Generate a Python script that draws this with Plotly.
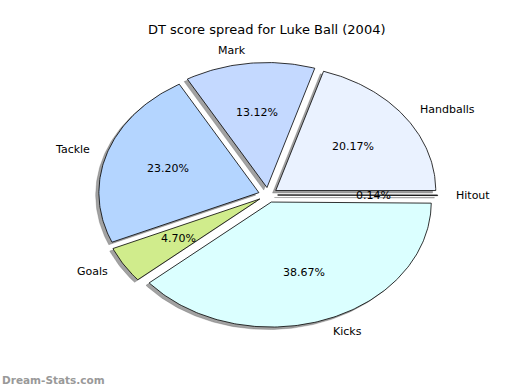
import numpy as np
import plotly.graph_objects as go

title = "DT score spread for Luke Ball (2004)"
labels = ["Handballs", "Mark", "Tackle", "Goals", "Kicks", "Hitout"]
values = [20.17, 13.12, 23.20, 4.70, 38.67, 0.14]
colors = ["#eaf2ff", "#c4d9ff", "#b4d5ff", "#d0ec8c", "#dbffff", "#c8c8c8"]
explode = [0.06, 0.06, 0.06, 0.06, 0.06, 0.06]

total = sum(values)
fracs = [v / total for v in values]

fig = go.Figure()
font = "DejaVu Sans, Verdana, sans-serif"

start = 0.0
wedges = []
for lab, f, col, ex in zip(labels, fracs, colors, explode):
    t1 = start * 2 * np.pi
    t2 = (start + f) * 2 * np.pi
    mid = (t1 + t2) / 2
    ox, oy = ex * np.cos(mid), ex * np.sin(mid)
    th = np.linspace(t1, t2, max(3, int(f * 400)))
    xs = np.concatenate([[ox], ox + np.cos(th), [ox]])
    ys = np.concatenate([[oy], oy + np.sin(th), [oy]])
    wedges.append((lab, f, col, xs, ys, mid, ox, oy))
    start += f

# shadows
for lab, f, col, xs, ys, mid, ox, oy in wedges:
    fig.add_trace(go.Scatter(x=xs - 0.02, y=ys - 0.02, mode="lines", fill="toself",
                             fillcolor="rgba(70,70,70,0.5)",
                             line=dict(color="rgba(70,70,70,0.5)", width=0.5),
                             hoverinfo="skip", showlegend=False))
# wedges
for lab, f, col, xs, ys, mid, ox, oy in wedges:
    fig.add_trace(go.Scatter(x=xs, y=ys, mode="lines", fill="toself", fillcolor=col,
                             line=dict(color="black", width=0.8),
                             name=lab, showlegend=False))

annotations = []
for lab, f, col, xs, ys, mid, ox, oy in wedges:
    lx, ly = ox + 1.1 * np.cos(mid), oy + 1.1 * np.sin(mid)
    annotations.append(dict(x=lx, y=ly, xref="x", yref="y", text=lab, showarrow=False,
                            xanchor="left" if lx > 0 else "right", yanchor="middle",
                            font=dict(family=font, size=11, color="black")))
    px, py = ox + 0.6 * np.cos(mid), oy + 0.6 * np.sin(mid)
    annotations.append(dict(x=px, y=py, xref="x", yref="y", text="%.2f%%" % (f * 100),
                            showarrow=False, xanchor="center", yanchor="middle",
                            font=dict(family=font, size=11, color="black")))

annotations.append(dict(x=0.0, y=0.0, xref="paper", yref="paper", xanchor="left",
                        yanchor="bottom", yshift=2, text="<b>Dream-Stats.com</b>",
                        showarrow=False,
                        font=dict(family=font, size=10.5, color="#999999")))
annotations.append(dict(x=0.513, y=1 - 30 / 390, xref="paper", yref="paper", text=title,
                        showarrow=False, xanchor="center", yanchor="middle",
                        font=dict(family=font, size=13, color="black")))

fig.update_layout(
    width=520, height=390,
    margin=dict(l=0, r=0, t=0, b=0),
    paper_bgcolor="white", plot_bgcolor="white",
    xaxis=dict(range=[-268 / 160, (520 - 268) / 160], visible=False, fixedrange=True),
    yaxis=dict(range=[-(390 - 195) / 125, 195 / 125], visible=False, fixedrange=True),
    annotations=annotations,
)

fig.write_html("out.html")
